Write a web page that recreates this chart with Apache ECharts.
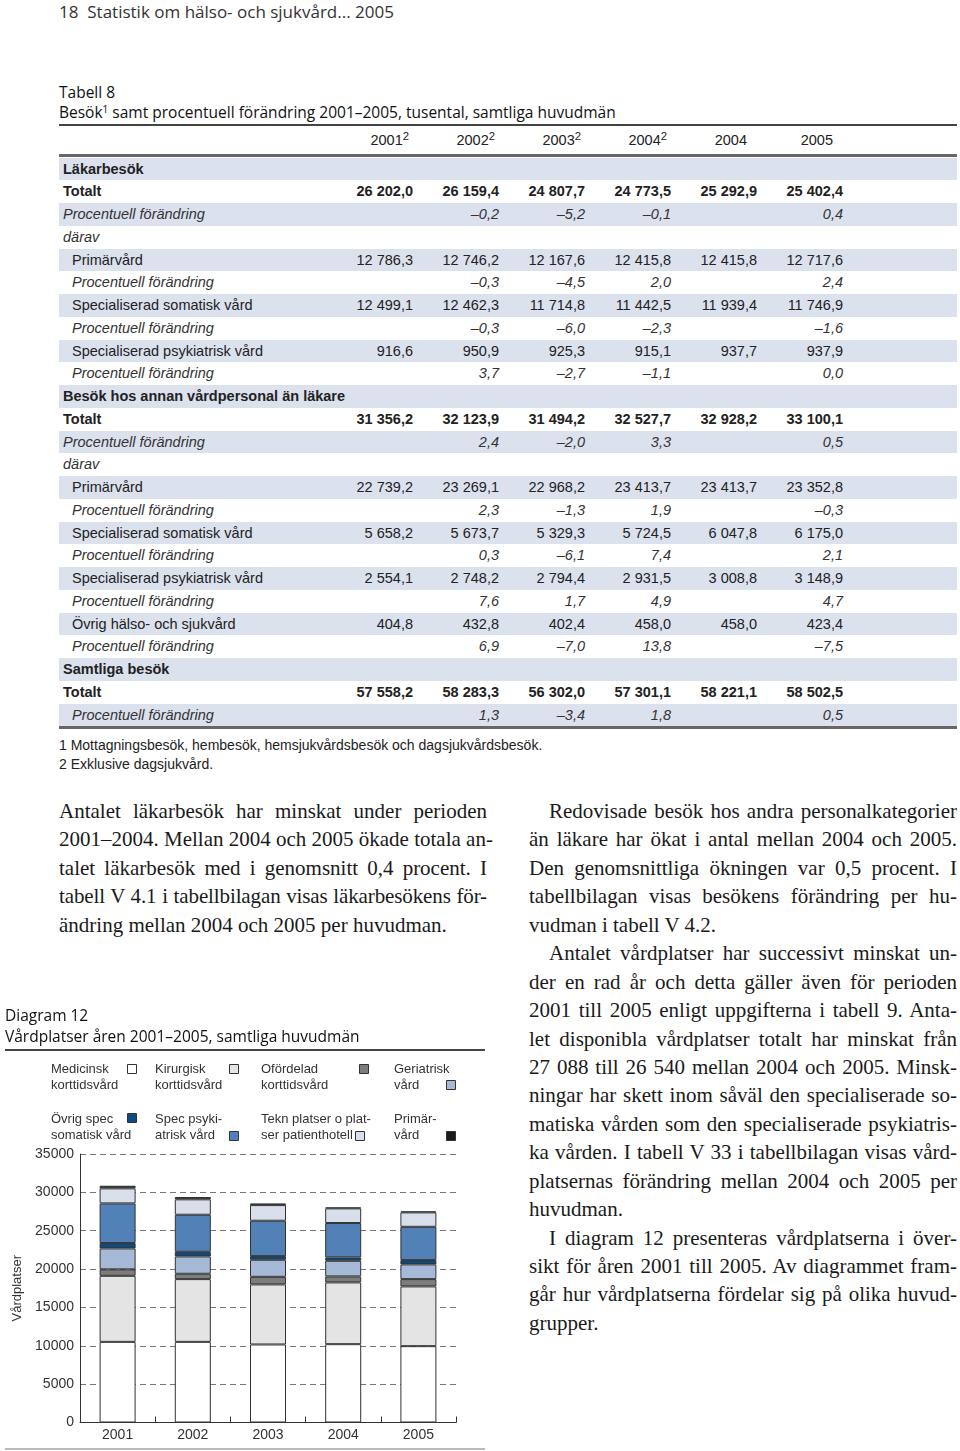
<!DOCTYPE html>
<html>
<head>
<meta charset="utf-8">
<script src="https://cdn.jsdelivr.net/npm/echarts@6/dist/echarts.min.js"></script>
<style>
  html, body { margin:0; padding:0; background:#fff; }
  #page { position:relative; width:960px; height:1451px; overflow:hidden; color:#222; font-family:"Liberation Sans", Arial, sans-serif; }
  .abs { position:absolute; }
  .hum { font-family:"Open Sans", "Liberation Sans", sans-serif; }
  .row { position:absolute; left:59px; width:898px; height:22.75px; line-height:22.75px; font-size:14.5px; white-space:pre; }
  .row.band { background:#dce1ee; }
  .cell { position:absolute; text-align:right; width:80px; }
  .para { position:absolute; width:428px; font-family:"Liberation Serif", "DejaVu Serif", serif; font-size:21px; line-height:28.44px; color:#1a1a1a; }
  .para div { text-align:justify; text-align-last:justify; white-space:nowrap; }
  .para div.last { text-align-last:left; }
  .para div.ind { padding-left:20px; }
  .para div.tight { letter-spacing:-0.12px; word-spacing:-1px; }
  sup { font-size:0.65em; vertical-align:0.45em; line-height:0; }
  #hdr sup { font-size:0.78em; vertical-align:0.4em; }
</style>
</head>
<body>
<div id="page">
  <div class="abs hum" style="left:59px; top:0px; font-size:17px; line-height:24px; color:#333;">18&nbsp; Statistik om hälso- och sjukvård... 2005</div>
  <div class="abs hum" style="left:59px; top:81px; font-size:15.5px; line-height:22px; color:#111;">Tabell 8</div>
  <div class="abs hum" style="left:59px; top:101px; font-size:15.5px; line-height:22px; color:#111;">Besök<sup>1</sup> samt procentuell förändring 2001&#8211;2005, tusental, samtliga huvudmän</div>
  <div class="abs" style="left:59px; top:124px; width:898px; height:2px; background:#444;"></div>
  <div id="hdr" class="abs" style="left:59px; top:129px; width:898px; height:22px; line-height:22px; font-size:14.5px;"></div>
  <div class="abs" style="left:59px; top:154px; width:898px; height:3px; background:#666;"></div>
  <div id="tbl"></div>
  <div class="abs" style="left:59px; top:726px; width:898px; height:3px; background:#666;"></div>
  <div class="abs" style="left:59px; top:736px; font-size:14px; line-height:19px; color:#222;">1 Mottagningsbesök, hembesök, hemsjukvårdsbesök och dagsjukvårdsbesök.<br>2 Exklusive dagsjukvård.</div>

  <div class="para" style="left:59px; top:797px;">
    <div>Antalet läkarbesök har minskat under perioden</div>
    <div>2001–2004. Mellan 2004 och 2005 ökade totala an-</div>
    <div>talet läkarbesök med i genomsnitt 0,4 procent. I</div>
    <div class="tight">tabell V 4.1 i tabellbilagan visas läkarbesökens för-</div>
    <div class="last">ändring mellan 2004 och 2005 per huvudman.</div>
  </div>
  <div class="para" style="left:529px; top:797px;">
    <div class="ind">Redovisade besök hos andra personalkategorier</div>
    <div>än läkare har ökat i antal mellan 2004 och 2005.</div>
    <div>Den genomsnittliga ökningen var 0,5 procent. I</div>
    <div>tabellbilagan visas besökens förändring per hu-</div>
    <div class="last">vudman i tabell V 4.2.</div>
    <div class="ind">Antalet vårdplatser har successivt minskat un-</div>
    <div>der en rad år och detta gäller även för perioden</div>
    <div>2001 till 2005 enligt uppgifterna i tabell 9. Anta-</div>
    <div>let disponibla vårdplatser totalt har minskat från</div>
    <div>27 088 till 26 540 mellan 2004 och 2005. Minsk-</div>
    <div>ningar har skett inom såväl den specialiserade so-</div>
    <div>matiska vården som den specialiserade psykiatris-</div>
    <div>ka vården. I tabell V 33 i tabellbilagan visas vård-</div>
    <div>platsernas förändring mellan 2004 och 2005 per</div>
    <div class="last">huvudman.</div>
    <div class="ind">I diagram 12 presenteras vårdplatserna i över-</div>
    <div>sikt för åren 2001 till 2005. Av diagrammet fram-</div>
    <div>går hur vårdplatserna fördelar sig på olika huvud-</div>
    <div class="last">grupper.</div>
  </div>

  <div id="chart" class="abs" style="left:0px; top:1000px; width:490px; height:451px;"></div>
</div>
<script>
// ---------- Table data ----------
const tableYears = ['2001', '2002', '2003', '2004', '2004', '2005'];
const tableYearSup = ['2', '2', '2', '2', '', ''];
const rowLabels = [
  'Läkarbesök', 'Totalt', 'Procentuell förändring', 'därav',
  'Primärvård', 'Procentuell förändring',
  'Specialiserad somatisk vård', 'Procentuell förändring',
  'Specialiserad psykiatrisk vård', 'Procentuell förändring',
  'Besök hos annan vårdpersonal än läkare', 'Totalt', 'Procentuell förändring', 'därav',
  'Primärvård', 'Procentuell förändring',
  'Specialiserad somatisk vård', 'Procentuell förändring',
  'Specialiserad psykiatrisk vård', 'Procentuell förändring',
  'Övrig hälso- och sjukvård', 'Procentuell förändring',
  'Samtliga besök', 'Totalt', 'Procentuell förändring'
];
// b = bold, i = italic, n = normal
const rowStyle = ['b','b','i','i','n','i','n','i','n','i','b','b','i','i','n','i','n','i','n','i','n','i','b','b','i'];
const rowIndent = [0,0,0,0,1,1,1,1,1,1,0,0,0,0,1,1,1,1,1,1,1,1,0,0,1];
const rowValues = [
  [],
  ['26 202,0','26 159,4','24 807,7','24 773,5','25 292,9','25 402,4'],
  ['','–0,2','–5,2','–0,1','','0,4'],
  [],
  ['12 786,3','12 746,2','12 167,6','12 415,8','12 415,8','12 717,6'],
  ['','–0,3','–4,5','2,0','','2,4'],
  ['12 499,1','12 462,3','11 714,8','11 442,5','11 939,4','11 746,9'],
  ['','–0,3','–6,0','–2,3','','–1,6'],
  ['916,6','950,9','925,3','915,1','937,7','937,9'],
  ['','3,7','–2,7','–1,1','','0,0'],
  [],
  ['31 356,2','32 123,9','31 494,2','32 527,7','32 928,2','33 100,1'],
  ['','2,4','–2,0','3,3','','0,5'],
  [],
  ['22 739,2','23 269,1','22 968,2','23 413,7','23 413,7','23 352,8'],
  ['','2,3','–1,3','1,9','','–0,3'],
  ['5 658,2','5 673,7','5 329,3','5 724,5','6 047,8','6 175,0'],
  ['','0,3','–6,1','7,4','','2,1'],
  ['2 554,1','2 748,2','2 794,4','2 931,5','3 008,8','3 148,9'],
  ['','7,6','1,7','4,9','','4,7'],
  ['404,8','432,8','402,4','458,0','458,0','423,4'],
  ['','6,9','–7,0','13,8','','–7,5'],
  [],
  ['57 558,2','58 283,3','56 302,0','57 301,1','58 221,1','58 502,5'],
  ['','1,3','–3,4','1,8','','0,5']
];

// ---------- Chart data ----------
const years = ['2001', '2002', '2003', '2004', '2005'];
const seriesNames = ['Medicinsk korttidsvård', 'Kirurgisk korttidsvård', 'Ofördelad korttidsvård', 'Geriatrisk vård',
                     'Övrig spec somatisk vård', 'Spec psykiatrisk vård', 'Tekn platser o platser patienthotell', 'Primärvård'];
const medicinsk  = [10510, 10510, 10170, 10210, 9950];
const kirurgisk  = [8610, 8180, 7830, 8050, 7790];
const ofordelad  = [840, 700, 990, 780, 950];
const geriatrisk = [2730, 2260, 2220, 2040, 1920];
const ovrigSpec  = [700, 600, 480, 440, 560];
const specPsyk   = [5170, 4830, 4610, 4480, 4340];
const teknPlatser = [1960, 2010, 2040, 1910, 1880];
const primarvard = [340, 300, 220, 130, 130];
const yTicks = [0, 5000, 10000, 15000, 20000, 25000, 30000, 35000];

// ---------- Build table ----------
(function () {
  const colRight = [413, 499, 585, 671, 757, 843];
  const hdr = document.getElementById('hdr');
  tableYears.forEach((y, k) => {
    const d = document.createElement('div');
    d.className = 'cell';
    d.style.left = (colRight[k] - 59 - 80 - (tableYearSup[k] ? 4 : 10)) + 'px';
    d.innerHTML = y + (tableYearSup[k] ? '<sup>' + tableYearSup[k] + '</sup>' : '');
    hdr.appendChild(d);
  });
  const tbl = document.getElementById('tbl');
  rowLabels.forEach((lab, i) => {
    const r = document.createElement('div');
    r.className = 'row' + (i % 2 === 0 ? ' band' : '');
    r.style.top = (157.6 + i * 22.75) + 'px';
    if (rowStyle[i] === 'b') r.style.fontWeight = 'bold';
    if (rowStyle[i] === 'i') { r.style.fontStyle = 'italic'; r.style.color = '#333'; }
    const l = document.createElement('div');
    l.style.position = 'absolute';
    l.style.left = (rowIndent[i] ? 13 : 4) + 'px';
    l.textContent = lab;
    r.appendChild(l);
    rowValues[i].forEach((v, k) => {
      if (!v) return;
      const c = document.createElement('div');
      c.className = 'cell';
      c.style.left = (colRight[k] - 59 - 80) + 'px';
      c.textContent = v;
      r.appendChild(c);
    });
    tbl.appendChild(r);
  });
})();

// ---------- Chart ----------
const colors = ['#ffffff', '#e4e4e4', '#7d7d7d', '#a6b9d7', '#0f4a7e', '#5281b7', '#d8dfea', '#1a1a1a'];
const values = [medicinsk, kirurgisk, ofordelad, geriatrisk, ovrigSpec, specPsyk, teknPlatser, primarvard];
const chart = echarts.init(document.getElementById('chart'), null, { renderer: 'canvas' });

const legendTexts = [
  { t: 'Medicinsk\nkorttidsvård', x: 51, y: 61, bx: 127, by: 64 },
  { t: 'Kirurgisk\nkorttidsvård', x: 155, y: 61, bx: 229, by: 64 },
  { t: 'Ofördelad\nkorttidsvård', x: 261, y: 61, bx: 359, by: 64 },
  { t: 'Geriatrisk\nvård', x: 394, y: 61, bx: 446, by: 80 },
  { t: 'Övrig spec\nsomatisk vård', x: 51, y: 111, bx: 127, by: 113 },
  { t: 'Spec psyki-\natrisk vård', x: 155, y: 111, bx: 229, by: 131 },
  { t: 'Tekn platser o plat-\nser patienthotell', x: 261, y: 111, bx: 355, by: 131 },
  { t: 'Primär-\nvård', x: 394, y: 111, bx: 446, by: 131 }
];
const graphics = [
  { type: 'text', left: 5, top: 9, style: { text: 'Diagram 12', font: '15.5px "Open Sans", sans-serif', fill: '#111' } },
  { type: 'text', left: 5, top: 30, style: { text: 'Vårdplatser åren 2001–2005, samtliga huvudmän', font: '15.5px "Open Sans", sans-serif', fill: '#111' } },
  { type: 'rect', shape: { x: 5, y: 49, width: 480, height: 2 }, style: { fill: '#444' } },
  { type: 'rect', shape: { x: 5, y: 448, width: 480, height: 2 }, style: { fill: '#bbb' } }
];
legendTexts.forEach((L, k) => {
  graphics.push({ type: 'text', x: L.x, y: L.y, style: { text: L.t, font: '13px "Liberation Sans", sans-serif', fill: '#333', lineHeight: 16 } });
  graphics.push({ type: 'rect', shape: { x: L.bx + 0.5, y: L.by + 0.5, width: 9, height: 9 }, style: { fill: colors[k], stroke: '#333', lineWidth: 1 } });
});

chart.setOption({
  animation: false,
  grid: { left: 80, right: 34, top: 154, bottom: 28.5, containLabel: false },
  xAxis: {
    type: 'category',
    data: years,
    boundaryGap: true,
    axisLine: { lineStyle: { color: '#333', width: 1 } },
    axisTick: { show: true, inside: true, length: 6, lineStyle: { color: '#333' } },
    axisLabel: { color: '#333', fontSize: 14, fontFamily: 'Liberation Sans', margin: 6 },
    splitLine: { show: false }
  },
  yAxis: {
    type: 'value',
    min: 0, max: 35000, interval: 5000,
    name: 'Vårdplatser',
    nameLocation: 'middle',
    nameRotate: 90,
    nameGap: 50,
    nameTextStyle: { color: '#333', fontSize: 13, fontFamily: 'Liberation Sans' },
    axisLine: { show: true, lineStyle: { color: '#333', width: 1 } },
    axisTick: { show: false },
    axisLabel: { color: '#333', fontSize: 14, fontFamily: 'Liberation Sans', margin: 6,
                 formatter: v => yTicks.indexOf(v) >= 0 ? String(v) : '' },
    splitLine: { show: true, lineStyle: { color: '#777', type: [6, 4], width: 1 } }
  },
  series: values.map((arr, k) => ({
    name: seriesNames[k],
    type: 'bar',
    stack: 'total',
    barWidth: 36,
    data: arr,
    itemStyle: { color: colors[k], borderColor: '#333', borderWidth: 1 }
  })),
  graphic: graphics
});
</script>
</body>
</html>
